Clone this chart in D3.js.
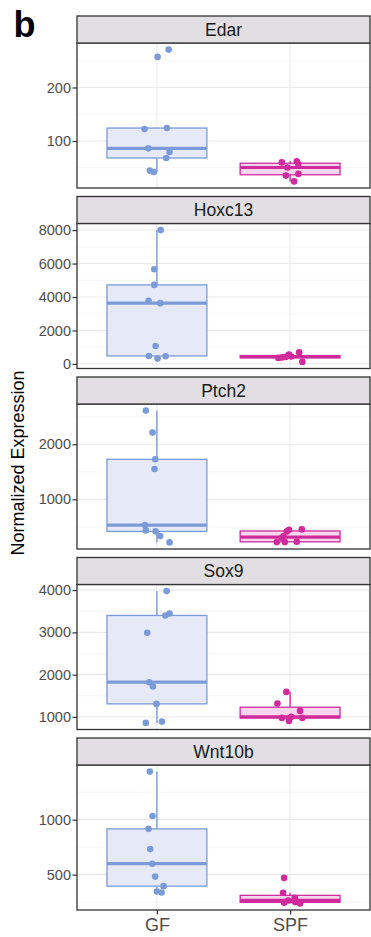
<!DOCTYPE html>
<html>
<head>
<meta charset="utf-8">
<script src="https://cdn.jsdelivr.net/npm/d3@7"></script>
<style>
  body { margin: 0; background: #fff; }
  svg { display: block; font-family: "Liberation Sans", Arial, sans-serif; }
</style>
</head>
<body>
<div id="chart"></div>
<script>
// values, one array per gene
const genes = ['Edar', 'Hoxc13', 'Ptch2', 'Sox9', 'Wnt10b']
const groups = ['GF', 'SPF']

const gfValues = [
  [270.8, 257.1, 122.4, 124.2, 86.3, 79.5, 68.3, 44.7, 42.2],
  [8000, 5657, 4724, 3771, 3633, 1072, 476, 318, 456],
  [2612, 2212, 1727, 1552, 533, 436, 418, 333, 218],
  [3976, 3447, 3400, 2989, 1821, 1718, 1308, 889, 858],
  [1437, 1033, 916, 732, 599, 482, 395, 346, 337]
]
const spfValues = [
  [62, 60, 57, 50.5, 38.5, 35.4, 24.5],
  [700, 560, 440, 420, 390, 360, 120],
  [455, 449, 418, 330, 300, 230, 224, 224],
  [1592, 1316, 1142, 1000, 976, 976, 905],
  [470, 334, 289, 265, 250, 244, 238]
]
// horizontal jitter of each point (in category units), as seen in the figure
const gfJitter = [
  [0.088, 0.005, -0.093, 0.075, -0.065, 0.095, 0.07, -0.053, -0.023],
  [0.028, -0.02, -0.02, -0.063, 0.025, -0.01, -0.06, 0.005, 0.065],
  [-0.083, -0.033, -0.013, -0.018, -0.09, -0.083, -0.01, 0.025, 0.095],
  [0.073, 0.095, 0.063, -0.073, -0.058, -0.03, -0.003, 0.038, -0.083],
  [-0.053, -0.033, -0.063, -0.05, -0.035, -0.013, 0.05, 0, 0.035]
]
const spfJitter = [
  [0.05, -0.062, 0.062, -0.02, 0.062, -0.032, 0.03],
  [0.068, -0.008, 0.008, -0.032, -0.06, -0.088, 0.092],
  [0.088, -0.008, -0.025, -0.05, -0.06, 0.05, -0.1, -0.04],
  [-0.028, -0.095, 0.075, 0.008, -0.062, 0.092, -0.008],
  [-0.045, -0.053, 0.035, -0.015, 0.038, -0.045, 0.075]
]
const yTicks = [
  [100, 200],
  [0, 2000, 4000, 6000, 8000],
  [1000, 2000],
  [1000, 2000, 3000, 4000],
  [500, 1000]
]

const width = 371
const height = 937
const left = 77
const right = 370
const top0 = 16
const stripH = 27
const plotH = 145
const gap = 8.5

const colors = { GF: '#7b9bd8', SPF: '#d02b9c' }
const fills = { GF: '#e6eaf8', SPF: '#f8d6ed' }

const svg = d3.select('#chart').append('svg')
  .attr('width', width)
  .attr('height', height)

svg.append('rect').attr('width', width).attr('height', height).attr('fill', 'white')

const x = d3.scaleLinear().domain([0.4, 2.6]).range([left, right])

function boxStats(vals) {
  const s = vals.slice().sort(d3.ascending)
  const q1 = d3.quantile(s, 0.25)
  const med = d3.quantile(s, 0.5)
  const q3 = d3.quantile(s, 0.75)
  const iqr = q3 - q1
  const lo = d3.min(s.filter(v => v >= q1 - 1.5 * iqr))
  const hi = d3.max(s.filter(v => v <= q3 + 1.5 * iqr))
  return { q1, med, q3, lo, hi }
}

genes.forEach((gene, gi) => {
  const stripTop = top0 + gi * (stripH + plotH + gap)
  const pTop = stripTop + stripH
  const pBottom = pTop + plotH

  const all = gfValues[gi].concat(spfValues[gi])
  const lo = d3.min(all)
  const hi = d3.max(all)
  const pad = (hi - lo) * 0.05
  const y = d3.scaleLinear().domain([lo - pad, hi + pad]).range([pBottom, pTop])

  const g = svg.append('g')

  // grid
  const ticks = yTicks[gi]
  const step = ticks[1] - ticks[0]
  const minor = []
  for (let v = ticks[0] - step / 2; v <= hi + pad; v += step) {
    if (v >= lo - pad) minor.push(v)
  }
  g.selectAll('.minor').data(minor).enter().append('line')
    .attr('x1', left).attr('x2', right)
    .attr('y1', d => y(d)).attr('y2', d => y(d))
    .attr('stroke', '#f2f2f2').attr('stroke-width', 0.6)
  g.selectAll('.major').data(ticks).enter().append('line')
    .attr('x1', left).attr('x2', right)
    .attr('y1', d => y(d)).attr('y2', d => y(d))
    .attr('stroke', '#ebebeb').attr('stroke-width', 1.1)
  g.selectAll('.vmajor').data([1, 2]).enter().append('line')
    .attr('x1', d => x(d)).attr('x2', d => x(d))
    .attr('y1', pTop).attr('y2', pBottom)
    .attr('stroke', '#ebebeb').attr('stroke-width', 1.1)

  // boxes
  const sets = [gfValues[gi], spfValues[gi]]
  const jit = [gfJitter[gi], spfJitter[gi]]
  sets.forEach((vals, k) => {
    const grp = groups[k]
    const st = boxStats(vals)
    const cx = x(k + 1)
    const hw = x(k + 1 + 0.375) - cx
    g.append('line')
      .attr('x1', cx).attr('x2', cx)
      .attr('y1', y(st.q3)).attr('y2', y(st.hi))
      .attr('stroke', colors[grp]).attr('stroke-width', 1.4)
    g.append('line')
      .attr('x1', cx).attr('x2', cx)
      .attr('y1', y(st.q1)).attr('y2', y(st.lo))
      .attr('stroke', colors[grp]).attr('stroke-width', 1.4)
    g.append('rect')
      .attr('x', cx - hw).attr('width', 2 * hw)
      .attr('y', y(st.q3)).attr('height', Math.max(0, y(st.q1) - y(st.q3)))
      .attr('fill', fills[grp])
      .attr('stroke', colors[grp]).attr('stroke-width', 1.3)
    g.append('line')
      .attr('x1', cx - hw).attr('x2', cx + hw)
      .attr('y1', y(st.med)).attr('y2', y(st.med))
      .attr('stroke', colors[grp]).attr('stroke-width', 3.2)

    g.selectAll('.pt' + k).data(vals).enter().append('circle')
      .attr('cx', (d, i) => x(k + 1 + jit[k][i]))
      .attr('cy', d => y(d))
      .attr('r', 3.3)
      .attr('fill', colors[grp])
  })

  // panel border
  g.append('rect')
    .attr('x', left).attr('y', pTop)
    .attr('width', right - left).attr('height', plotH)
    .attr('fill', 'none').attr('stroke', '#333').attr('stroke-width', 1.3)

  // strip
  g.append('rect')
    .attr('x', left).attr('y', stripTop)
    .attr('width', right - left).attr('height', stripH)
    .attr('fill', '#e1dfe1').attr('stroke', '#333').attr('stroke-width', 1.3)
  g.append('text')
    .attr('x', (left + right) / 2).attr('y', stripTop + stripH / 2)
    .attr('dy', '0.36em')
    .attr('text-anchor', 'middle')
    .attr('font-size', 17.5)
    .attr('fill', '#1a1a1a')
    .text(gene)

  // y axis
  const ax = g.append('g')
    .attr('transform', 'translate(' + left + ',0)')
    .call(d3.axisLeft(y).tickValues(ticks).tickSize(4.5).tickSizeOuter(0).tickPadding(1.5).tickFormat(d3.format('d')))
  ax.select('.domain').remove()
  ax.selectAll('line').attr('stroke', '#333').attr('stroke-width', 1.2)
  ax.selectAll('text').attr('font-size', 14.5).attr('fill', '#4d4d4d')
    .attr('font-family', '"Liberation Sans", Arial, sans-serif')

  if (gi === genes.length - 1) {
    const bx = g.append('g')
      .attr('transform', 'translate(0,' + pBottom + ')')
      .call(d3.axisBottom(x).tickValues([1, 2]).tickSize(4.5).tickSizeOuter(0).tickPadding(4)
        .tickFormat(d => groups[d - 1]))
    bx.select('.domain').remove()
    bx.selectAll('line').attr('stroke', '#333').attr('stroke-width', 1.2)
    bx.selectAll('text').attr('font-size', 18).attr('fill', '#4d4d4d')
      .attr('font-family', '"Liberation Sans", Arial, sans-serif')
  }
})

// y title
svg.append('text')
  .attr('transform', 'translate(23.5,' + (top0 + 910) / 2 + ') rotate(-90)')
  .attr('text-anchor', 'middle')
  .attr('font-size', 18)
  .attr('fill', '#000')
  .text('Normalized Expression')

// panel letter
svg.append('text')
  .attr('x', 13.5).attr('y', 36.5)
  .attr('font-size', 36)
  .attr('font-weight', 'bold')
  .attr('fill', '#000')
  .text('b')
</script>
</body>
</html>
